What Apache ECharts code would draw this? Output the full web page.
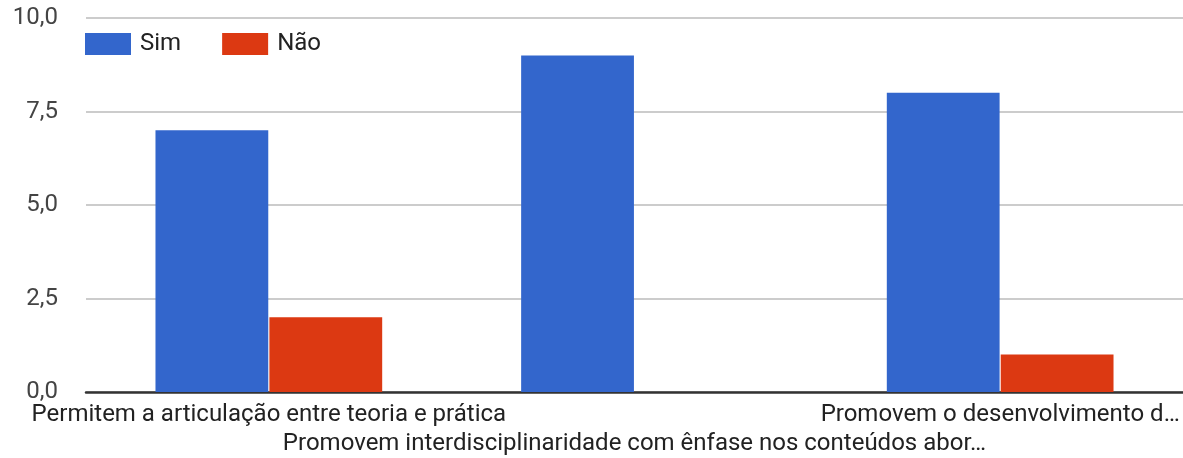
<!DOCTYPE html>
<html><head><meta charset="utf-8">
<script src="https://cdn.jsdelivr.net/npm/echarts@6/dist/echarts.min.js"></script>
<style>html,body{margin:0;padding:0;background:#fff}#c{width:1183px;height:458px}</style>
</head><body><div id="c"></div>
<script>
const categories = [
  'Permitem a articulação entre teoria e prática',
  'Promovem interdisciplinaridade com ênfase nos conteúdos abor…',
  'Promovem o desenvolvimento d…'
];
const simValues = [7, 9, 8];
const naoValues = [2, 0, 1];
const seriesNames = ['Sim', 'Não'];

const chart = echarts.init(document.getElementById('c'));
chart.setOption({
  animation: false,
  textStyle: { fontFamily: 'Roboto, Arial, sans-serif' },
  legend: {
    left: 80, top: 27, itemWidth: 46, itemHeight: 22, itemGap: 41,
    icon: 'rect',
    textStyle: { fontSize: 24, color: '#222', padding: [0, 0, 0, 4] },
    data: seriesNames
  },
  grid: { left: 86, top: 18, bottom: 66, width: 1103 },
  xAxis: {
    type: 'category', data: categories,
    axisLine: { lineStyle: { color: '#333', width: 2.5 } },
    axisTick: { show: false },
    axisLabel: {
      interval: 0, fontSize: 24, color: '#222', margin: 8,
      formatter: (v, i) => (i === 1 ? '\n' + v : v),
      lineHeight: 29
    }
  },
  yAxis: {
    type: 'value', min: 0, max: 10, interval: 2.5,
    axisLabel: { fontSize: 24, color: '#444', margin: 28,
      formatter: v => v.toFixed(1).replace('.', ',') },
    splitLine: { lineStyle: { color: '#ccc', width: 2 } }
  },
  series: [
    { name: 'Sim', type: 'bar', data: simValues, barGap: '1%', barCategoryGap: '38%',
      itemStyle: { color: '#3366cc' } },
    { name: 'Não', type: 'bar', data: naoValues,
      itemStyle: { color: '#dc3912' } }
  ]
});
</script></body></html>
